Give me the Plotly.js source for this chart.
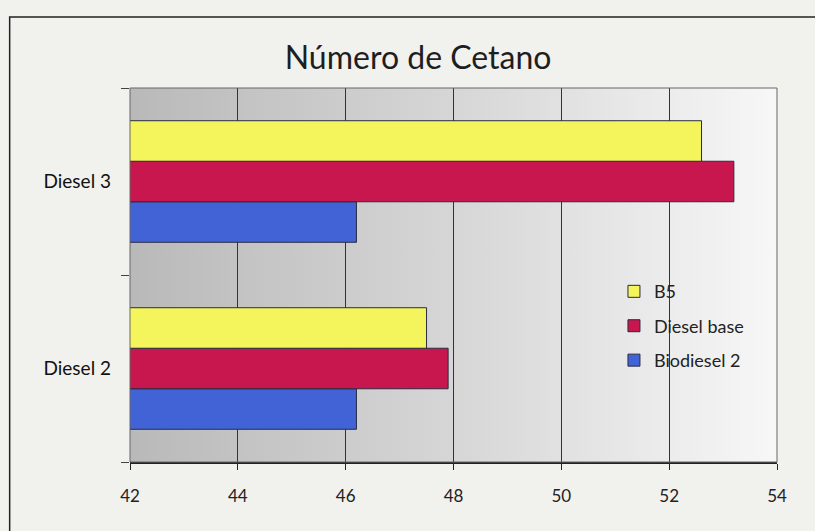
<!DOCTYPE html>
<html><head><meta charset="utf-8">
<script src="https://cdn.plot.ly/plotly-3.0.1.min.js"></script>
<style>html,body{margin:0;padding:0;background:#f1f1ee;}#chart{width:815px;height:531px;}</style>
</head><body><div id="chart"></div>
<script>
const categories = ['Diesel 2', 'Diesel 3'];
const seriesNames = ['Biodiesel 2', 'Diesel base', 'B5'];
const biodiesel2 = [46.2, 46.2];
const dieselBase = [47.9, 53.2];
const b5 = [47.5, 52.6];
const xTicks = [42, 44, 46, 48, 50, 52, 54];
const colors = ['#4263d6', '#c8174f', '#f4f45c'];

const values = [biodiesel2, dieselBase, b5];
const traces = seriesNames.map((n, i) => ({
  type: 'bar', orientation: 'h', name: n, legendgroup: 'g' + i,
  legendrank: 3 - i,
  y: categories, x: values[i],
  marker: {color: colors[i], line: {color: '#2a2a40', width: 1}},
  hoverinfo: 'x+name'
}));

const grad = 'data:image/svg+xml;utf8,' + encodeURIComponent(
 '<svg xmlns="http://www.w3.org/2000/svg" width="100" height="100" preserveAspectRatio="none"><defs><linearGradient id="g" x1="0" y1="0" x2="1" y2="0"><stop offset="0" stop-color="#b9b9b9"/><stop offset="0.5" stop-color="#d6d6d6"/><stop offset="1" stop-color="#f7f7f7"/></linearGradient></defs><rect width="100" height="100" fill="url(#g)"/></svg>');

const layout = {
  width: 815, height: 531,
  margin: {l: 130, r: 38, t: 88, b: 69},
  paper_bgcolor: '#f1f1ee', plot_bgcolor: 'rgba(0,0,0,0)',
  font: {family: 'Lato, "Open Sans", sans-serif', color: '#222'},
  title: {text: 'Número de Cetano', x: 0.513, xanchor: 'center', y: 0.892, yanchor: 'middle',
          font: {size: 32, color: '#1e1e1e', family: 'Lato, "Open Sans", sans-serif'}},
  barmode: 'group', bargap: 0.35, bargroupgap: 0,
  xaxis: {range: [42, 54], tickvals: xTicks, ticktext: xTicks.map(String),
          showgrid: true, gridcolor: '#333', gridwidth: 1,
          showline: true, linecolor: '#222', linewidth: 1.5, mirror: false,
          ticks: 'outside', ticklen: 6, tickcolor: '#222', ticklabelstandoff: 12,
          tickfont: {size: 17, color: '#222'}, zeroline: false, fixedrange: true},
  yaxis: {type: 'category', categoryorder: 'array', categoryarray: categories,
          tickson: 'boundaries', ticks: 'outside', ticklen: 8, tickcolor: '#444',
          showline: false, showgrid: false, ticklabelstandoff: 18,
          tickfont: {size: 19, color: '#111'}, fixedrange: true},
  legend: {x: 0.748, y: 0.505, xanchor: 'left', yanchor: 'top', traceorder: 'grouped',
           bgcolor: 'rgba(0,0,0,0)', font: {size: 18, color: '#222'}, itemwidth: 30, tracegroupgap: 8},
  images: [{source: grad, xref: 'paper', yref: 'paper', x: 0, y: 1, sizex: 1, sizey: 1,
            xanchor: 'left', yanchor: 'top', sizing: 'stretch', layer: 'below'}],
  shapes: [
    {type: 'rect', xref: 'paper', yref: 'paper', x0: 0, x1: 1, y0: 0, y1: 1,
     line: {color: '#666', width: 1}, fillcolor: 'rgba(0,0,0,0)'},
    {type: 'rect', xref: 'paper', yref: 'paper', x0: -0.186, x1: 1.2, y0: -0.2, y1: 1.19,
     line: {color: '#222', width: 1.5}, fillcolor: 'rgba(0,0,0,0)'}
  ],
  showlegend: true
};
Plotly.newPlot('chart', traces, layout, {displayModeBar: false, staticPlot: true});
</script></body></html>
